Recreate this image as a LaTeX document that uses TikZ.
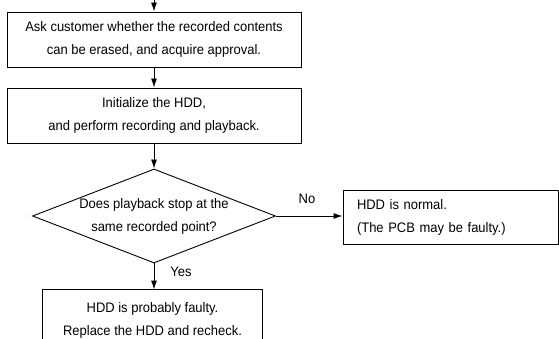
\documentclass[tikz,border=0pt]{standalone}
\usepackage{fontspec}
\setmainfont[FakeStretch=0.94]{Liberation Sans}
\usetikzlibrary{shapes.geometric,arrows.meta}
\begin{document}
\begin{tikzpicture}[x=1pt,y=-1pt, line width=0.9pt,
  every node/.style={font=\fontsize{13.8}{23}\selectfont, inner sep=0pt},
  box/.style={draw, rectangle, align=center},
  arr/.style={-{Latex[length=9pt,width=6pt]}}]
\useasboundingbox (0,0) rectangle (559,339);
\clip (0,0) rectangle (559,339);
\coordinate (start) at (154,0);
\node[box, minimum width=294pt, minimum height=55pt] (b1) at (154,39.5)
  {Ask customer whether the recorded contents\\can be erased, and acquire approval.};
\node[box, minimum width=294pt, minimum height=55pt] (b2) at (154,115.5)
  {Initialize the HDD,\\and perform recording and playback.};
\node[draw, diamond, aspect=2.585, minimum width=243pt, minimum height=94pt, align=center] (d) at (154,216)
  {Does playback stop at the\\same recorded point?};
\node[draw, rectangle, align=left, text width=187pt, inner xsep=14pt, minimum height=54pt] (b3) at (450.5,217)
  {HDD is normal.\\(The PCB may be faulty.)};
\node[align=center, minimum width=219pt, minimum height=60pt] (b4) at (152.5,320)
  {HDD is probably faulty.\\Replace the HDD and recheck.};
\draw (b4.south west) -- (b4.north west) -- (b4.north east) -- (b4.south east);
\draw[arr] (start) -- (b1.north);
\draw[arr] (b1.south) -- (b2.north);
\draw[arr] (b2.south) -- (d.north);
\draw[arr] (d.east) -- (d.east -| b3.west);
\draw[arr] (d.south) -- (d.south |- b4.north);
\node (no) at (307,199) {No};
\node (yes) at (181,272) {Yes};
\end{tikzpicture}
\end{document}
